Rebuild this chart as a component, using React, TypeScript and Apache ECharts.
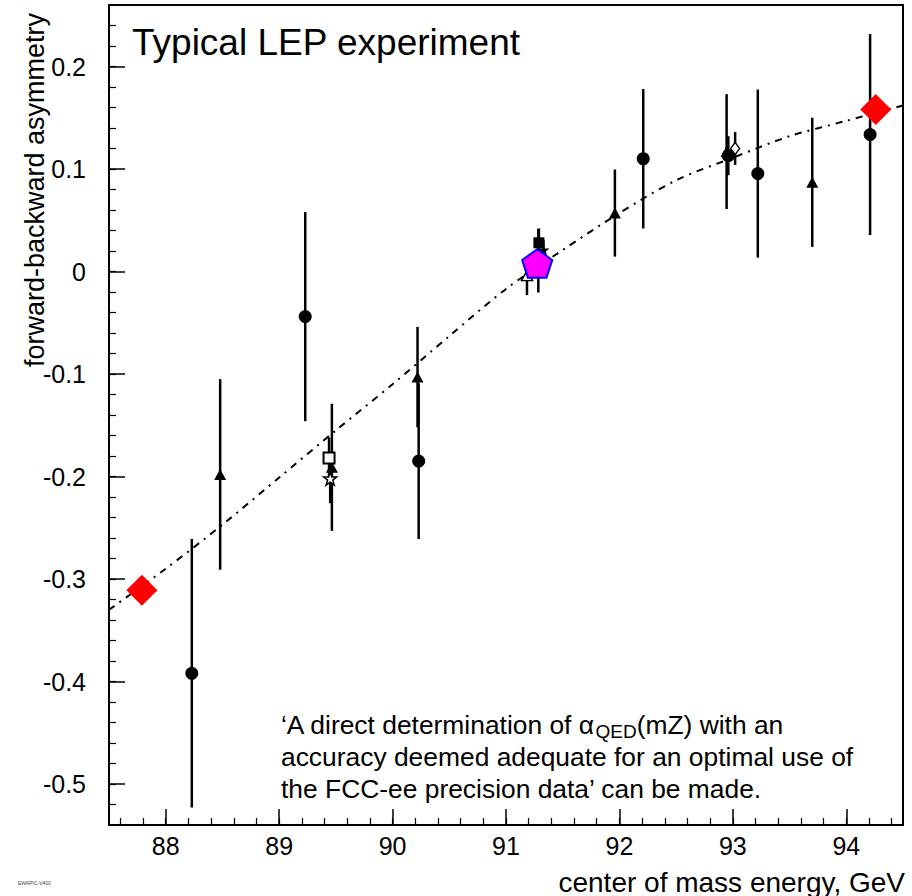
import React, { useEffect, useRef } from "react";
import * as echarts from "echarts";

// ---- axis ticks ----
const xMajorTicks = [88, 89, 90, 91, 92, 93, 94];
const yMajorTicks = [-0.5, -0.4, -0.3, -0.2, -0.1, 0, 0.1, 0.2];
const xRange = [87.5, 94.5];
const yRange = [-0.54, 0.26];

// ---- data (x, y, error) ----
const circlePoints = [
  [88.23, -0.392, 0.131],
  [89.23, -0.044, 0.102],
  [90.23, -0.185, 0.076],
  [91.285, 0.0105, 0.031],
  [92.21, 0.11, 0.068],
  [92.96, 0.113, 0.019],
  [93.22, 0.0955, 0.082],
  [94.21, 0.1336, 0.098],
];
const trianglePoints = [
  [88.48, -0.198, 0.093],
  [89.465, -0.191, 0.062],
  [90.22, -0.103, 0.049],
  [91.96, 0.057, 0.0425],
  [92.945, 0.117, 0.056],
  [93.7, 0.087, 0.063],
];
const openTrianglePoints = [[91.185, -0.004, 0.019]];
const openSquarePoints = [[89.44, -0.182, 0.02]];
const starPoints = [[89.45, -0.202, 0.024]];
const filledSquarePoints = [[91.29, 0.028, 0.014]];
const filledStarPoints = [[91.33, 0.021, 0.01]];
const openDiamondPoints = [[93.02, 0.12, 0.016]];
const redDiamonds = [
  [87.79, -0.311],
  [94.26, 0.158],
];
const pentagonPoint = [[91.275, 0.0079]];

// fit curve
const curveX = [87.5, 88.0, 88.5, 89.0, 89.5, 90.0, 90.5, 91.0, 91.5, 92.0, 92.5, 93.0, 93.5, 94.0, 94.5];
const curveY = [-0.33, -0.29, -0.247, -0.201, -0.155, -0.11, -0.063, -0.017, 0.021, 0.057, 0.089, 0.111, 0.132, 0.147, 0.162];

const FONT = "'Liberation Sans', Arial, sans-serif";

const STAR = "path://M0,-10 L2.35,-3.24 L9.51,-3.09 L3.8,1.24 L5.88,8.09 L0,4 L-5.88,8.09 L-3.8,1.24 L-9.51,-3.09 L-2.35,-3.24 Z";
const PENTAGON = "path://M0,-10 L9.51,-3.09 L5.88,8.09 L-5.88,8.09 L-9.51,-3.09 Z";

function minorTicks(from: number, to: number, step: number) {
  const out: number[] = [];
  const n = Math.round((to - from) / step);
  for (let i = 0; i <= n; i++) out.push(+(from + i * step).toFixed(4));
  return out;
}

export default function App() {
  const ref = useRef<HTMLDivElement>(null);
  useEffect(() => {
    if (!ref.current) return;
    const chart = echarts.init(ref.current, null, { renderer: "svg" });

    const allPts = [
      ...circlePoints,
      ...trianglePoints,
      ...openTrianglePoints,
      ...openSquarePoints,
      ...starPoints,
      ...filledSquarePoints,
      ...filledStarPoints,
      ...openDiamondPoints,
    ];
    const errData = allPts.map((p) => [p[0], p[1] - p[2], p[1] + p[2]]);
    const xy = (arr: number[][]) => arr.map((p) => [p[0], p[1]]);

    const xMinor = minorTicks(87.6, 94.4, 0.2);
    const yMinor = minorTicks(-0.52, 0.24, 0.02);

    const baseX = {
      type: "value",
      min: xRange[0],
      max: xRange[1],
      splitLine: { show: false },
    };
    const baseY = {
      type: "value",
      min: yRange[0],
      max: yRange[1],
      splitLine: { show: false },
    };

    const scatter = (data: number[][], symbol: string, size: any, itemStyle: any, z: number) => ({
      type: "scatter",
      data,
      symbol,
      symbolSize: size,
      itemStyle: { opacity: 1, ...itemStyle },
      emphasis: { disabled: true },
      z,
    });

    const option: any = {
      animation: false,
      backgroundColor: "#fff",
      grid: {
        left: 109,
        top: 5,
        width: 794,
        height: 820,
        show: true,
        borderColor: "#000",
        borderWidth: 2,
        containLabel: false,
      },
      xAxis: [
        {
          ...baseX,
          axisLine: { show: true, onZero: false, lineStyle: { color: "#000", width: 2 } },
          axisTick: { show: true, inside: true, length: 16, customValues: xMajorTicks, lineStyle: { color: "#000", width: 1.5 } },
          axisLabel: { show: true, customValues: xMajorTicks, fontSize: 25, color: "#000", fontFamily: FONT, margin: 8 },
        },
        {
          ...baseX,
          position: "bottom",
          axisLine: { show: false, onZero: false },
          axisTick: { show: true, inside: true, length: 7, customValues: xMinor, lineStyle: { color: "#000", width: 1.2 } },
          axisLabel: { show: false },
        },
      ],
      yAxis: [
        {
          ...baseY,
          axisLine: { show: true, onZero: false, lineStyle: { color: "#000", width: 2 } },
          axisTick: { show: true, inside: true, length: 16, customValues: yMajorTicks, lineStyle: { color: "#000", width: 1.5 } },
          axisLabel: {
            show: true,
            customValues: yMajorTicks,
            fontSize: 25,
            color: "#000",
            fontFamily: FONT,
            margin: 23,
            formatter: (v: number) => String(v),
          },
        },
        {
          ...baseY,
          position: "left",
          axisLine: { show: false, onZero: false },
          axisTick: { show: true, inside: true, length: 7, customValues: yMinor, lineStyle: { color: "#000", width: 1.2 } },
          axisLabel: { show: false },
        },
      ],
      series: [
        {
          type: "line",
          data: curveX.map((x, i) => [x, curveY[i]]),
          smooth: 0.3,
          showSymbol: false,
          symbol: "none",
          lineStyle: { color: "#000", width: 2, type: [7, 6, 2, 6] },
          emphasis: { disabled: true },
          z: 1,
        },
        {
          type: "custom",
          data: errData,
          encode: { x: 0, y: [1, 2] },
          renderItem: (params: any, api: any) => {
            const x = api.value(0);
            const p1 = api.coord([x, api.value(1)]);
            const p2 = api.coord([x, api.value(2)]);
            return {
              type: "line",
              shape: { x1: p1[0], y1: p1[1], x2: p2[0], y2: p2[1] },
              style: { stroke: "#000", lineWidth: 2.5 },
            };
          },
          z: 2,
        },
        scatter(xy(circlePoints), "circle", 13, { color: "#000" }, 3),
        scatter(xy(trianglePoints), "triangle", [12, 11], { color: "#000" }, 3),
        scatter(xy(openTrianglePoints), "triangle", [11, 10], { color: "#fff", borderColor: "#000", borderWidth: 1.5 }, 3),
        scatter(xy(openSquarePoints), "rect", 11, { color: "#fff", borderColor: "#000", borderWidth: 2 }, 4),
        scatter(xy(starPoints), STAR, 13, { color: "#fff", borderColor: "#000", borderWidth: 1.5 }, 4),
        scatter(xy(filledSquarePoints), "rect", 11, { color: "#000" }, 4),
        scatter(xy(filledStarPoints), STAR, 12, { color: "#000" }, 4),
        scatter(xy(openDiamondPoints), "diamond", [9, 12], { color: "#fff", borderColor: "#000", borderWidth: 1.5 }, 4),
        scatter(redDiamonds, "diamond", 31, { color: "#ff0000" }, 5),
        scatter(pentagonPoint, PENTAGON, [30, 28.5], { color: "#ff00ff", borderColor: "#0000ff", borderWidth: 2 }, 6),
      ],
      graphic: [
        {
          type: "text",
          left: 132,
          top: 24,
          style: { text: "Typical LEP experiment", fontSize: 37, fontFamily: FONT, fill: "#000" },
          z: 10,
        },
        {
          type: "text",
          x: 35,
          y: 190,
          rotation: Math.PI / 2,
          style: {
            text: "forward-backward asymmetry",
            fontSize: 27,
            fontFamily: FONT,
            fill: "#000",
            align: "center",
            verticalAlign: "middle",
          },
        },
        {
          type: "text",
          x: 905,
          y: 882,
          style: {
            text: "center of mass energy, GeV",
            fontSize: 28,
            fontFamily: FONT,
            fill: "#000",
            align: "right",
            verticalAlign: "middle",
          },
        },
        {
          type: "text",
          x: 18,
          y: 883,
          style: { text: "EWAPIC-V400", fontSize: 5, fontFamily: FONT, fill: "#444", verticalAlign: "middle" },
        },
        {
          type: "text",
          x: 281,
          y: 725,
          style: {
            text: "\u2018A direct determination of \u03b1{sub|QED}(mZ) with an",
            fontSize: 26.4,
            fontFamily: FONT,
            fill: "#000",
            verticalAlign: "middle",
            rich: {
              sub: { fontSize: 19, fontFamily: FONT, fill: "#000", verticalAlign: "bottom", padding: [13, 0, 0, 0] },
            },
          },
          z: 10,
        },
        {
          type: "text",
          x: 281,
          y: 757,
          style: {
            text: "accuracy deemed adequate for an optimal use of",
            fontSize: 26.4,
            fontFamily: FONT,
            fill: "#000",
            verticalAlign: "middle",
          },
          z: 10,
        },
        {
          type: "text",
          x: 281,
          y: 789,
          style: {
            text: "the FCC-ee precision data\u2019 can be made.",
            fontSize: 26.4,
            fontFamily: FONT,
            fill: "#000",
            verticalAlign: "middle",
          },
          z: 10,
        },
      ],
    };

    chart.setOption(option);
    return () => chart.dispose();
  }, []);

  return (
    <div
      ref={ref}
      style={{ position: "absolute", left: 0, top: 0, width: 912, height: 896, background: "#fff" }}
    />
  );
}
